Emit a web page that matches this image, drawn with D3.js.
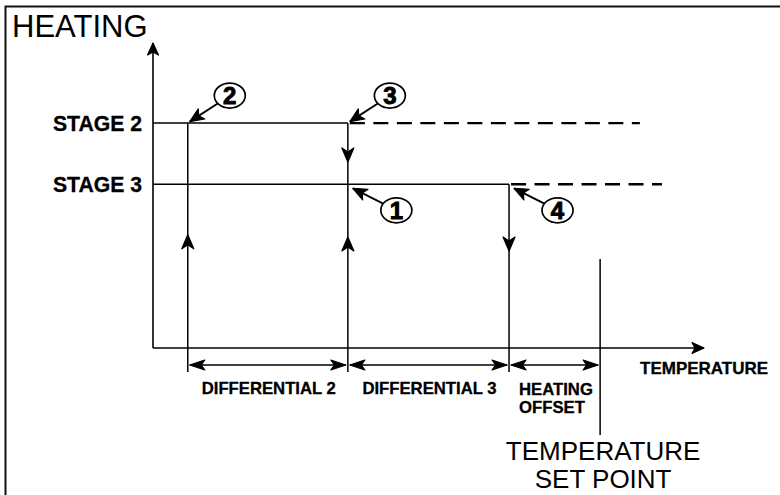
<!DOCTYPE html>
<html><head><meta charset="utf-8">
<script src="https://cdn.jsdelivr.net/npm/d3@7"></script>
<style>
body{margin:0;background:#fff}
svg{display:block}
text{font-family:"Liberation Sans",Arial,Helvetica,sans-serif;fill:#000}
text.b{font-weight:bold;stroke:#000;stroke-width:0.3px}
</style>
</head><body>
<svg id="c" width="780" height="495"></svg>
<script>
// ---------- data ----------
const stages = ["STAGE 2", "STAGE 3"];
const stageLevels = [7.35, 5.35];          // heating output level of each stage
const stageDashEnd = [8.82, 9.22];         // where the dashed continuation ends
const setPoint = 8.1;                      // temperature set point
const segmentNames = ["DIFFERENTIAL 2", "DIFFERENTIAL 3", "HEATING OFFSET"];
const segmentWidths = [2.9, 2.92, 1.65];   // DIFF 2, DIFF 3, HEATING OFFSET
const setPointLineTop = 2.91;
const flowArrows = [                       // direction arrows on vertical lines
  {seg: 0, y: 3.7, dir: "up"},
  {seg: 1, y: 6.08, dir: "down"},
  {seg: 1, y: 3.63, dir: "up"},
  {seg: 2, y: 3.17, dir: "down"}
];
const callouts = [
  {num: "2", seg: 0, stage: 0, side: "above"},
  {num: "3", seg: 1, stage: 0, side: "above"},
  {num: "1", seg: 1, stage: 1, side: "below"},
  {num: "4", seg: 2, stage: 1, side: "below"}
];
const axisTitleY = "HEATING";
const axisTitleX = "TEMPERATURE";
const setPointLabel = ["TEMPERATURE", "SET POINT"];

// ---------- derived breakpoints ----------
const b3 = setPoint;
const b2 = b3 - segmentWidths[2];
const b1 = b2 - segmentWidths[1];
const b0 = b1 - segmentWidths[0];
const breaks = [b0, b1, b2, b3];

// ---------- scales ----------
const x = d3.scaleLinear().domain([0, 10]).range([153, 705]);
const y = d3.scaleLinear().domain([0, 10]).range([348, 42]);

const svg = d3.select("#c");
const defs = svg.append("defs");
function headPath(len, half, notch) {
  return `M0,0 L${-len},${-half} L${-len + notch},0 L${-len},${half} Z`;
}
function mk(id, len, half, notch) {
  defs.append("marker").attr("id", id)
    .attr("markerUnits", "userSpaceOnUse")
    .attr("viewBox", `${-len - 2} ${-half - 2} ${len + 4} ${2 * half + 4}`)
    .attr("markerWidth", len + 4).attr("markerHeight", 2 * half + 4)
    .attr("refX", 0).attr("refY", 0)
    .attr("orient", "auto-start-reverse")
    .append("path")
    .attr("d", headPath(len, half, notch))
    .attr("fill", "#000").attr("stroke", "#000").attr("stroke-width", 1.2)
    .attr("stroke-linejoin", "round");
}
mk("axisHead", 12, 5.5, 3);
mk("dimHead", 15, 5, 3.5);
mk("leadHead", 14, 6, 3.5);

// frame (top and left only visible)
svg.append("path").attr("d", "M5.5,495 V6.5 H780")
  .attr("fill", "none").attr("stroke", "#111").attr("stroke-width", 2);

const g = svg.append("g").attr("stroke", "#000").attr("fill", "none");

// axes
g.append("line").attr("x1", x(0)).attr("y1", y(0)).attr("x2", x(0)).attr("y2", y(10) + 1)
  .attr("stroke-width", 1.6).attr("marker-end", "url(#axisHead)");
g.append("line").attr("x1", x(0)).attr("y1", y(0)).attr("x2", x(10) - 1).attr("y2", y(0))
  .attr("stroke-width", 1.6).attr("marker-end", "url(#axisHead)");

// stage lines
const solidEnd = [b1, b2];
stages.forEach((s, i) => {
  g.append("line").attr("x1", x(0)).attr("x2", x(solidEnd[i]))
    .attr("y1", y(stageLevels[i])).attr("y2", y(stageLevels[i])).attr("stroke-width", 1.5);
  g.append("line").attr("x1", x(solidEnd[i]) + 2).attr("x2", x(stageDashEnd[i]))
    .attr("y1", y(stageLevels[i])).attr("y2", y(stageLevels[i]))
    .attr("stroke-width", 2.4).attr("stroke-dasharray", "15,8.5");
});

// vertical lines
const tickBelow = 24;
const vTops = [y(stageLevels[0]), y(stageLevels[0]), y(stageLevels[1])];
breaks.slice(0, 3).forEach((b, i) => {
  g.append("line").attr("x1", x(b)).attr("x2", x(b))
    .attr("y1", vTops[i]).attr("y2", y(0) + tickBelow).attr("stroke-width", 1.5);
});
g.append("line").attr("x1", x(b3)).attr("x2", x(b3))
  .attr("y1", y(setPointLineTop)).attr("y2", y(0) + 87).attr("stroke-width", 1.5);

// flow arrowheads on verticals
const flowHead = headPath(14, 6, 4);
flowArrows.forEach(f => {
  svg.append("path").attr("d", flowHead).attr("fill", "#000")
    .attr("stroke", "#000").attr("stroke-width", 1.2).attr("stroke-linejoin", "round")
    .attr("transform", `translate(${x(breaks[f.seg])},${y(f.y)}) rotate(${f.dir === "up" ? -90 : 90})`);
});

// dimension arrows
const dimY = y(0) + 17;
segmentNames.forEach((n, i) => {
  g.append("line").attr("x1", x(breaks[i]) + 2).attr("x2", x(breaks[i + 1]) - 2)
    .attr("y1", dimY).attr("y2", dimY).attr("stroke-width", 1.6)
    .attr("marker-start", "url(#dimHead)").attr("marker-end", "url(#dimHead)");
});

// callouts
const rx = 15.5, ry = 12.5;
callouts.forEach(c => {
  const ax = x(breaks[c.seg]), ay = y(stageLevels[c.stage]);
  const above = c.side === "above";
  const cx = ax + (above ? 42 : 48.5);
  const cy = ay + (above ? -27.5 : 26);
  const tx = ax + (above ? 2 : 5), ty = ay + (above ? -1.5 : 4);
  const dx = tx - cx, dy = ty - cy;
  const t = 1 / Math.sqrt((dx / rx) ** 2 + (dy / ry) ** 2);
  g.append("line").attr("x1", cx + dx * t).attr("y1", cy + dy * t)
    .attr("x2", tx).attr("y2", ty).attr("stroke-width", 1.9)
    .attr("marker-end", "url(#leadHead)");
  g.append("ellipse").attr("cx", cx).attr("cy", cy).attr("rx", rx).attr("ry", ry)
    .attr("fill", "#fff").attr("stroke-width", 1.7);
  svg.append("text").attr("x", cx).attr("y", cy + 8.5).attr("text-anchor", "middle")
    .attr("font-size", 24).attr("font-weight", "bold")
    .attr("stroke", "#000").attr("stroke-width", 0.9).text(c.num);
});

// texts
svg.append("text").attr("x", 12).attr("y", 37).attr("font-size", 31).text(axisTitleY);
stages.forEach((s, i) => {
  svg.append("text").attr("class", "b").attr("x", 142).attr("y", y(stageLevels[i]) + 8)
    .attr("text-anchor", "end").attr("font-size", 21.2).text(s);
});
svg.append("text").attr("class", "b").attr("x", 640).attr("y", 374).attr("font-size", 17)
  .text(axisTitleX);
segmentNames.forEach((n, i) => {
  if (i < 2) {
    svg.append("text").attr("class", "b").attr("x", (x(breaks[i]) + x(breaks[i + 1])) / 2 + 1).attr("y", 394)
      .attr("text-anchor", "middle").attr("font-size", 16.7).text(n);
  } else {
    n.split(" ").forEach((w, k) => {
      svg.append("text").attr("class", "b").attr("x", x(breaks[i]) + 10).attr("y", 395 + k * 18)
        .attr("font-size", 16.7).text(w);
    });
  }
});
setPointLabel.forEach((t, k) => {
  svg.append("text").attr("x", x(setPoint) + 3).attr("y", 460 + k * 28)
    .attr("text-anchor", "middle").attr("font-size", 26).text(t);
});
</script>
</body></html>
